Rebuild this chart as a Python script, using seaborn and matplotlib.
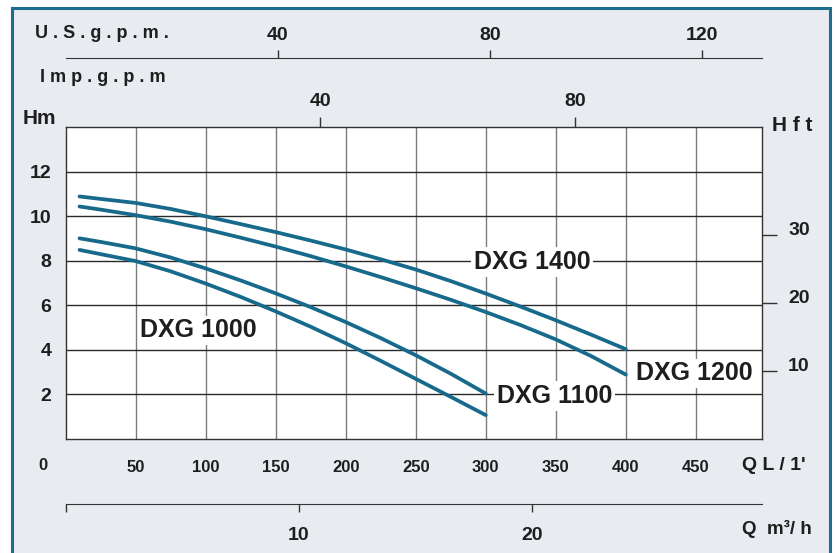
import numpy as np
import pandas as pd
import matplotlib
matplotlib.use("Agg")
import matplotlib.pyplot as plt
import seaborn as sns
from matplotlib.patches import Rectangle

# ---------------- data ----------------
models = ["DXG 1400", "DXG 1200", "DXG 1100", "DXG 1000"]
q_1400 = [10, 25, 50, 75, 100, 125, 150, 175, 200, 225, 250, 275, 300, 325, 350, 375, 400]
h_1400 = [10.88, 10.77, 10.59, 10.32, 9.99, 9.64, 9.28, 8.90, 8.50, 8.06, 7.60, 7.08,
          6.52, 5.93, 5.32, 4.68, 4.02]
q_1200 = [10, 25, 50, 75, 100, 125, 150, 175, 200, 225, 250, 275, 300, 325, 350, 375, 400]
h_1200 = [10.43, 10.29, 10.04, 9.75, 9.41, 9.03, 8.63, 8.20, 7.74, 7.26, 6.76, 6.24,
          5.69, 5.10, 4.46, 3.72, 2.88]
q_1100 = [10, 25, 50, 75, 100, 125, 150, 175, 200, 225, 250, 275, 300]
h_1100 = [9.00, 8.84, 8.55, 8.14, 7.65, 7.11, 6.53, 5.91, 5.24, 4.52, 3.75, 2.92, 2.03]
q_1000 = [10, 25, 50, 75, 100, 125, 150, 175, 200, 225, 250, 275, 300]
h_1000 = [8.48, 8.29, 7.98, 7.52, 6.97, 6.37, 5.72, 5.03, 4.29, 3.50, 2.69, 1.88, 1.06]

label_q = [333, 449, 349, 95]
label_h = [7.93, 2.93, 1.91, 4.87]

x_ticks = [50, 100, 150, 200, 250, 300, 350, 400, 450]
y_ticks = [2, 4, 6, 8, 10, 12]
usgpm_ticks = [40, 80, 120]
impgpm_ticks = [40, 80]
m3h_ticks = [0, 10, 20]
m3h_labels = ["", "10", "20"]
hft_ticks = [10, 20, 30]

df = pd.concat([
    pd.DataFrame({"Q": q, "H": h, "model": m})
    for q, h, m in zip([q_1400, q_1200, q_1100, q_1000],
                       [h_1400, h_1200, h_1100, h_1000], models)
], ignore_index=True)

# ---------------- style ----------------
sns.set_style("white")
plt.rcParams["font.family"] = ["Liberation Sans", "DejaVu Sans"]
plt.rcParams["font.weight"] = "bold"
TXT = "#1e1e1e"
CURVE = "#176a8b"
FRAME = "#1d6e8e"
BG = "#e8ebf0"

W, H = 838, 553
fig = plt.figure(figsize=(W / 100, H / 100), dpi=100)
fig.patch.set_facecolor("white")
fig.patches.append(Rectangle((12 / W, -0.05), (830 - 12) / W, (553 - 8) / H + 0.05,
                             transform=fig.transFigure, facecolor=BG,
                             edgecolor=FRAME, linewidth=2.2, zorder=-5))

L, R, T, B = 65.5, 761.7, 127.0, 438.7
ax = fig.add_axes([L / W, 1 - B / H, (R - L) / W, (B - T) / H])
ax.set_facecolor("white")

sns.lineplot(data=df, x="Q", y="H", hue="model", palette=[CURVE] * 4,
             legend=False, linewidth=2.7, sort=False, estimator=None, ax=ax)
for ln in ax.get_lines():
    ln.set_solid_joinstyle("round")
ax.set_xlim(0, 497)
ax.set_ylim(0, 14)
ax.set_xlabel("")
ax.set_ylabel("")
ax.set_xticks(x_ticks)
ax.set_yticks(y_ticks)
ax.set_axisbelow(True)
ax.xaxis.grid(True, color="#7c7c7c", linewidth=1.0)
ax.yaxis.grid(True, color="#2a2a2a", linewidth=1.0)
for s in ax.spines.values():
    s.set_color("#333333")
    s.set_linewidth(1.0)
ax.tick_params(axis="x", length=0, pad=15.5, labelsize=12, labelcolor=TXT)
ax.tick_params(axis="y", length=0, pad=10, labelsize=14, labelcolor=TXT)

for name, q, h in zip(models, label_q, label_h):
    ax.text(q, h, name, ha="center", va="center", fontsize=18, fontweight="bold",
            color=TXT, bbox=dict(facecolor="white", edgecolor="none", pad=2), zorder=5)

# ---------------- secondary scales ----------------
ax_h = B - T
sec_us = ax.secondary_xaxis(1 + (T - 58.3) / ax_h,
                            functions=(lambda q: q / 3.785411784, lambda g: g * 3.785411784))
sec_us.set_xticks(usgpm_ticks)
sec_us.tick_params(direction="out", length=6, width=1, color="#333333", pad=4.5,
                   labelsize=14, labelcolor=TXT)
for s in sec_us.spines.values():
    s.set_color("#333333")

sec_imp = ax.secondary_xaxis("top",
                             functions=(lambda q: q / 4.54609, lambda g: g * 4.54609))
sec_imp.set_xticks(impgpm_ticks)
sec_imp.tick_params(direction="out", length=7.5, width=1, color="#333333", pad=5,
                    labelsize=14, labelcolor=TXT)
sec_imp.spines["top"].set_visible(False)

sec_m3 = ax.secondary_xaxis(-(504.3 - B) / ax_h,
                            functions=(lambda q: q * 0.06, lambda m: m / 0.06))
sec_m3.set_xticks(m3h_ticks, m3h_labels)
sec_m3.tick_params(direction="out", length=6, width=1, color="#333333", pad=10,
                   labelsize=14, labelcolor=TXT)
for s in sec_m3.spines.values():
    s.set_color("#333333")

sec_ft = ax.secondary_yaxis("right",
                            functions=(lambda m: m / 0.3048, lambda f: f * 0.3048))
sec_ft.set_yticks(hft_ticks)
sec_ft.tick_params(direction="out", length=11, width=1, color="#333333", pad=8,
                   labelsize=14, labelcolor=TXT)
sec_ft.spines["right"].set_visible(False)

fig.canvas.draw()
for t in sec_ft.yaxis.get_major_ticks():
    t.label2.set_va("baseline")
    t.label1.set_va("baseline")

# ---------------- axis names ----------------
def ftext(x, y, s, size=12, ha="left"):
    fig.text(x / W, 1 - y / H, s, ha=ha, va="center", fontsize=size,
             fontweight="bold", color=TXT)

ftext(35, 33, "U . S . g . p . m .", 13)
ftext(40, 77, "I m p . g . p . m", 13)
ftext(23, 119, "Hm", 15)
ftext(772, 125, "H f t", 15)
ftext(43, 466, "0", 12, ha="center")
ftext(742, 466, "Q L / 1'", 14)
ftext(742, 529, "Q  m³/ h", 13.5)

fig.savefig("out.png", dpi=100, facecolor=fig.get_facecolor())
